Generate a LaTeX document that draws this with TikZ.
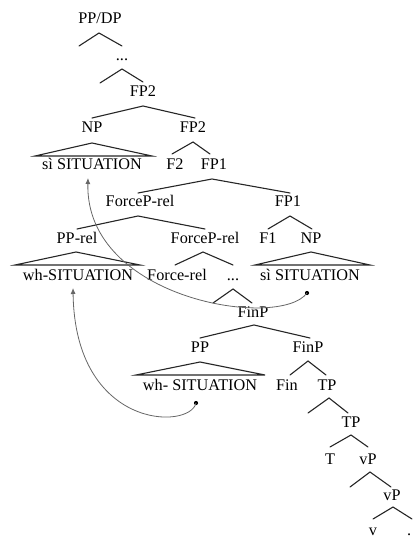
\documentclass[tikz,border=0pt]{standalone}
\usepackage{fontspec}
\setmainfont{Liberation Serif}
\usetikzlibrary{calc,arrows.meta}
\begin{document}
\begin{tikzpicture}[x=1bp,y=-1bp,
  t/.style={anchor=base,inner sep=0pt,font=\fontsize{16.3}{19}\selectfont},
  br/.style={line width=1.1bp,black!85,line cap=round},
  tri/.style={line width=1.1bp,black!85,line join=miter},
  mv/.style={line width=0.8bp,black!60,-{Latex[length=6bp,width=5bp]}},
  dotmark/.style={circle,fill=black,inner sep=0pt,minimum size=4.2bp}
]
\useasboundingbox (0,0) rectangle (412,538);
% nodes
\node[t] (n1) at (100,24) {PP/DP};
\node[t] (n2) at (122,61) {...};
\node[t] (n3) at (143,97) {FP2};
\node[t] (n4) at (92,133) {NP};
\node[t] (n5) at (193,133) {FP2};
\node[t] (n6) at (92,170) {sì SITUATION};
\node[t] (n7) at (175,170) {F2};
\node[t] (n8) at (214,170) {FP1};
\node[t] (n9) at (140,207) {ForceP-rel};
\node[t] (n10) at (288,207) {FP1};
\node[t] (n11) at (77,243) {PP-rel};
\node[t] (n12) at (205,243) {ForceP-rel};
\node[t] (n13) at (268,243) {F1};
\node[t] (n14) at (311,243) {NP};
\node[t] (n15) at (78,280) {wh-SITUATION};
\node[t] (n16) at (177,280) {Force-rel};
\node[t] (n17) at (233,280) {...};
\node[t] (n18) at (310,280) {sì SITUATION};
\node[t] (n19) at (253,317) {FinP};
\node[t] (n20) at (200,352) {PP};
\node[t] (n21) at (308,352) {FinP};
\node[t] (n22) at (200,390) {wh- SITUATION};
\node[t] (n23) at (287,390) {Fin};
\node[t] (n24) at (327,390) {TP};
\node[t] (n25) at (351,427) {TP};
\node[t] (n26) at (330,464) {T};
\node[t] (n27) at (368,464) {vP};
\node[t] (n28) at (392,500) {vP};
\node[t] (n29) at (373,535) {v};
\node[t,anchor=base west] (n30) at (407,535) {.};
% free branch ends
\coordinate (e1) at (79,46);
\coordinate (e2) at (100,83);
\coordinate (e3) at (213,303);
\coordinate (e4) at (308,413);
\coordinate (e5) at (350,487);
\coordinate (e6) at (412,519);
% branches
\draw[br] (e1) -- ($(n1.base)+(-1,9)$) -- ($(n2.base)+(0,-15)$);
\draw[br] (e2) -- ($(n2.base)+(0,8)$) -- ($(n3.base)+(0,-15)$);
\draw[br] ($(n4.base)+(0,-15)$) -- ($(n3.base)+(0,9)$) -- ($(n5.base)+(2,-15)$);
\draw[br] ($(n7.base)+(-3,-16)$) -- ($(n5.base)+(0,9)$) -- ($(n8.base)+(-4,-16)$);
\draw[br] ($(n9.base)+(-2,-14)$) -- ($(n8.base)+(-2,9)$) -- ($(n10.base)+(2,-14)$);
\draw[br] ($(n11.base)+(0,-14)$) -- ($(n9.base)+(-2,9)$) -- ($(n12.base)+(0,-14)$);
\draw[br] ($(n13.base)+(0,-14)$) -- ($(n10.base)+(2,9)$) -- ($(n14.base)+(1,-14)$);
\draw[br] ($(n16.base)+(-2,-15)$) -- ($(n12.base)+(-2,9)$) -- ($(n17.base)+(0,-15)$);
\draw[br] (e3) -- ($(n17.base)+(0,9)$) -- ($(n19.base)+(-1,-14)$);
\draw[br] ($(n20.base)+(0,-14)$) -- ($(n19.base)+(1,8)$) -- ($(n21.base)+(2,-14)$);
\draw[br] ($(n23.base)+(3,-15)$) -- ($(n21.base)+(0,9)$) -- ($(n24.base)+(-1,-15)$);
\draw[br] (e4) -- ($(n24.base)+(2,8)$) -- ($(n25.base)+(-3,-14)$);
\draw[br] ($(n26.base)+(0,-17)$) -- ($(n25.base)+(0,8)$) -- ($(n27.base)+(0,-17)$);
\draw[br] (e5) -- ($(n27.base)+(2,8)$) -- ($(n28.base)+(-1,-13)$);
\draw[br] ($(n29.base)+(0,-16)$) -- ($(n28.base)+(1,7)$) -- (e6);
% triangles
\draw[tri] ($(n4.base)+(0,10)$) -- ($(n6.base)+(-57,-14)$) -- ($(n6.base)+(60,-14)$) -- cycle;
\draw[tri] ($(n11.base)+(-1,9)$) -- ($(n15.base)+(-63,-15)$) -- ($(n15.base)+(62,-15)$) -- cycle;
\draw[tri] ($(n14.base)+(0,9)$) -- ($(n18.base)+(-55,-15)$) -- ($(n18.base)+(60,-15)$) -- cycle;
\draw[tri] ($(n20.base)+(0,10)$) -- ($(n22.base)+(-64,-15)$) -- ($(n22.base)+(65,-15)$) -- cycle;
% movement arrows
\node[dotmark] (d1) at ($(n18.base)+(-3,13)$) {};
\node[dotmark] (d2) at ($(n22.base)+(-4,13)$) {};
\coordinate (tip1) at ($(n6.base)+(-4,8)$);
\coordinate (tip2) at ($(n15.base)+(-5,8)$);
\draw[mv] (d1.center) .. controls (280,330) and (85,300) .. (tip1);
\draw[mv] (d2.center) .. controls (190,430) and (75,430) .. (tip2);
\end{tikzpicture}
\end{document}
